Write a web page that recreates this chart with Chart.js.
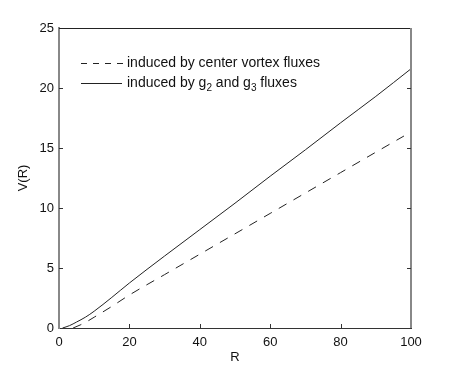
<!DOCTYPE html>
<html>
<head>
<meta charset="utf-8">
<script src="https://cdn.jsdelivr.net/npm/chart.js@4.4.1/dist/chart.umd.min.js"></script>
<style>
html,body{margin:0;padding:0;background:#fff;}
#wrap{width:454px;height:370px;position:relative;}
</style>
</head>
<body>
<div id="wrap"><canvas id="c" width="454" height="370"></canvas></div>
<script>
// ---- data ----
const R_g2g3 = [1, 3, 5, 7.5, 10, 15, 20, 30, 40, 50, 60, 70, 80, 90, 100];
const V_g2g3 = [0, 0.2, 0.5, 0.9, 1.4, 2.55, 3.75, 6.0, 8.2, 10.4, 12.65, 14.85, 17.1, 19.3, 21.6];
const R_vortex = [4, 6, 8, 10, 15, 20, 30, 40, 50, 60, 70, 80, 90, 98];
const V_vortex = [0, 0.25, 0.55, 0.9, 1.8, 2.75, 4.45, 6.15, 7.85, 9.55, 11.25, 12.95, 14.65, 16.0];
const xTicks = [0, 20, 40, 60, 80, 100];
const yTicks = [0, 5, 10, 15, 20, 25];
const legendLabels = [
  {parts: [["induced by center vortex fluxes", false]]},
  {parts: [["induced by g", false], ["2", true], [" and g", false], ["3", true], [" fluxes", false]]}
];

const FONT = "'Liberation Sans', Arial, Helvetica, sans-serif";
const toPts = (xs, ys) => xs.map((x, i) => ({x: x, y: ys[i]}));

const frameTicks = {
  id: 'frameTicks',
  afterDraw(chart) {
    const {ctx, chartArea: a, scales: {x, y}} = chart;
    ctx.save();
    // top and right frame
    ctx.strokeStyle = '#222'; ctx.lineWidth = 1;
    ctx.beginPath(); ctx.moveTo(a.left, a.top + 0.5); ctx.lineTo(a.right, a.top + 0.5); ctx.stroke();
    ctx.strokeStyle = '#888'; ctx.lineWidth = 2;
    ctx.beginPath(); ctx.moveTo(a.right, a.top); ctx.lineTo(a.right, a.bottom); ctx.stroke();
    // inward ticks
    ctx.strokeStyle = '#333'; ctx.lineWidth = 1;
    yTicks.forEach(v => {
      const py = Math.round(y.getPixelForValue(v)) + 0.5;
      if (v === 0 || v === 25) return;
      ctx.beginPath(); ctx.moveTo(a.left, py); ctx.lineTo(a.left + 4, py); ctx.stroke();
      ctx.beginPath(); ctx.moveTo(a.right, py); ctx.lineTo(a.right - 4, py); ctx.stroke();
    });
    xTicks.forEach(v => {
      const px = Math.round(x.getPixelForValue(v)) + 0.5;
      if (v === 0 || v === 100) return;
      ctx.beginPath(); ctx.moveTo(px, a.bottom); ctx.lineTo(px, a.bottom - 4); ctx.stroke();
    });
    // legend
    const lx0 = 81, lx1 = 123, tx = 127, rows = [63, 83];
    const legendDash = [[6, 6], []];
    ctx.fillStyle = '#111';
    ctx.textBaseline = 'middle';
    legendLabels.forEach((lab, i) => {
      const ds = chart.data.datasets[i];
      ctx.strokeStyle = ds.borderColor; ctx.lineWidth = 1;
      ctx.setLineDash(legendDash[i]);
      ctx.beginPath(); ctx.moveTo(lx0, rows[i] + 0.5); ctx.lineTo(i === 1 ? 122 : lx1, rows[i] + 0.5); ctx.stroke();
      ctx.setLineDash([]);
      let cx = tx;
      lab.parts.forEach(([t, sub]) => {
        ctx.font = (sub ? '10px ' : '14px ') + FONT;
        ctx.fillText(t, cx, rows[i] + (sub ? 5 : 0));
        cx += ctx.measureText(t).width;
      });
    });
    ctx.restore();
  }
};

new Chart(document.getElementById('c'), {
  type: 'line',
  data: {
    datasets: [
      {label: 'induced by center vortex fluxes', data: toPts(R_vortex, V_vortex), borderColor: '#222', borderWidth: 1, borderDash: [9, 8], pointRadius: 0, fill: false, cubicInterpolationMode: 'monotone'},
      {label: 'induced by g2 and g3 fluxes', data: toPts(R_g2g3, V_g2g3), borderColor: '#222', borderWidth: 1, pointRadius: 0, fill: false, cubicInterpolationMode: 'monotone'}
    ]
  },
  options: {
    responsive: false,
    animation: false,
    devicePixelRatio: 1,
    layout: {padding: {top: 28, right: 43, left: 0, bottom: 0}},
    plugins: {legend: {display: false}, tooltip: {enabled: false}},
    scales: {
      x: {
        type: 'linear', min: 0, max: 100,
        afterFit: s => { s.height = 42; },
        afterBuildTicks: s => { s.ticks = xTicks.map(v => ({value: v})); },
        grid: {display: false, drawTicks: false},
        border: {display: true, color: '#333', width: 1},
        ticks: {color: '#111', font: {family: FONT, size: 13}, padding: 7, maxRotation: 0},
        title: {display: true, text: 'R', color: '#111', font: {family: FONT, size: 13}, padding: {top: 0, bottom: 5}}
      },
      y: {
        type: 'linear', min: 0, max: 25,
        afterFit: s => { s.width = 59; },
        afterBuildTicks: s => { s.ticks = yTicks.map(v => ({value: v})); },
        grid: {display: false, drawTicks: false},
        border: {display: true, color: '#888', width: 2},
        ticks: {color: '#111', font: {family: FONT, size: 13}, padding: 5},
        title: {display: true, text: 'V(R)', color: '#111', font: {family: FONT, size: 13}, padding: {top: 16, bottom: 0}}
      }
    }
  },
  plugins: [frameTicks]
});
</script>
</body>
</html>
